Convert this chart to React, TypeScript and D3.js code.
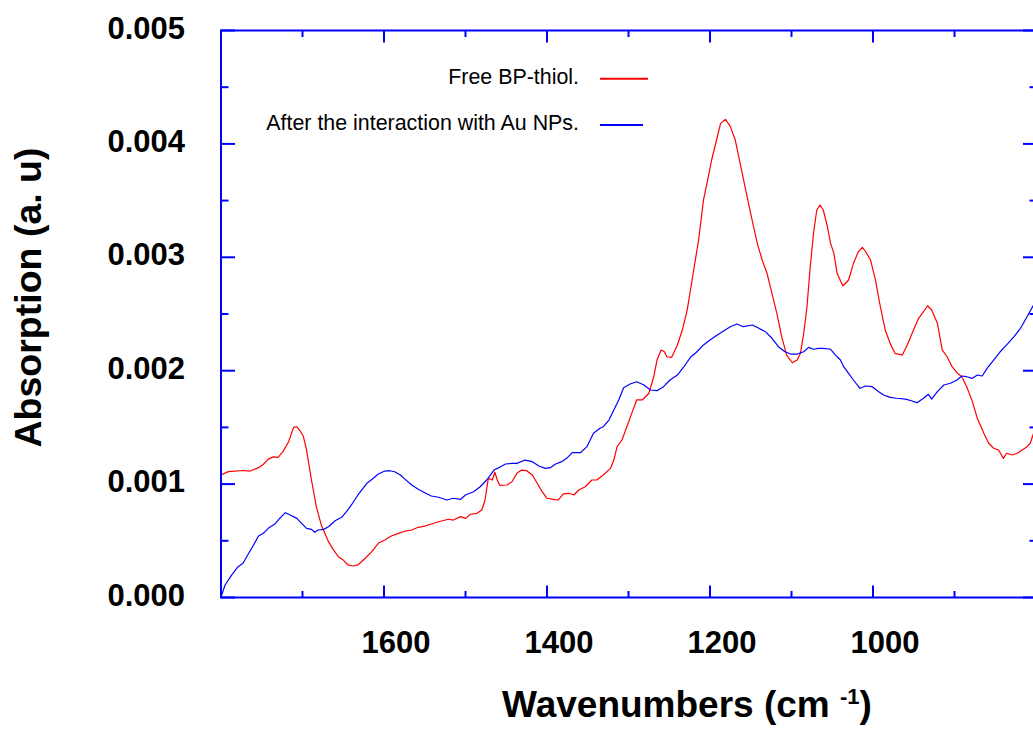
import React from "react";
import * as d3 from "d3";

// FTIR absorption spectra: [wavenumber (cm^-1), absorbance (a.u.)]
const freeThiol: [number, number][] = [
  [1800, 0.00108], [1791, 0.00111], [1773, 0.00112], [1764, 0.001115], [1754, 0.001145],
  [1748, 0.001175], [1742, 0.00122], [1736, 0.00124], [1730, 0.001236], [1724, 0.001286],
  [1717, 0.001374], [1711, 0.0015], [1707, 0.001506], [1703, 0.00147], [1699, 0.001424],
  [1695, 0.0013], [1689, 0.001036], [1683, 0.0008], [1677, 0.00064], [1668, 0.00049],
  [1662, 0.00042], [1656, 0.00036], [1650, 0.00033], [1644, 0.000287], [1638, 0.000278],
  [1632, 0.000287], [1623, 0.000346], [1615, 0.000404], [1607, 0.000478], [1599, 0.000507],
  [1591, 0.000542], [1582, 0.000566], [1574, 0.000586], [1566, 0.000595], [1558, 0.000619],
  [1550, 0.00063], [1542, 0.000648], [1533, 0.000668], [1521, 0.00069], [1515, 0.000683],
  [1506, 0.000713], [1500, 0.000698], [1494, 0.000734], [1486, 0.000742], [1480, 0.000772],
  [1476, 0.00086], [1472, 0.001051], [1467, 0.001036], [1464, 0.001104], [1461, 0.001036],
  [1458, 0.000989], [1449, 0.000992], [1443, 0.001021], [1437, 0.001095], [1431, 0.001124],
  [1425, 0.001118], [1418, 0.00108], [1412, 0.001007], [1406, 0.000933], [1400, 0.000875],
  [1392, 0.000866], [1386, 0.00086], [1380, 0.000913], [1373, 0.000919], [1367, 0.000904],
  [1361, 0.000948], [1353, 0.000977], [1345, 0.001036], [1339, 0.001036], [1331, 0.00108],
  [1322, 0.001139], [1318, 0.001212], [1314, 0.00133], [1308, 0.001389], [1302, 0.001506],
  [1296, 0.001624], [1290, 0.001742], [1283, 0.001742], [1275, 0.001801], [1269, 0.001947],
  [1265, 0.002094], [1260, 0.002182], [1256, 0.002167], [1253, 0.002123], [1247, 0.002118],
  [1240, 0.002227], [1234, 0.002359], [1228, 0.002535], [1222, 0.0028], [1214, 0.003152],
  [1208, 0.003505], [1202, 0.003711], [1198, 0.003858], [1191, 0.004063], [1187, 0.004181],
  [1181, 0.004217], [1175, 0.004152], [1169, 0.004034], [1163, 0.003829], [1157, 0.003622],
  [1151, 0.003417], [1142, 0.003123], [1136, 0.002976], [1130, 0.002859], [1124, 0.002682],
  [1118, 0.002506], [1112, 0.0023], [1106, 0.002138], [1099, 0.00207], [1093, 0.002094],
  [1089, 0.002153], [1085, 0.00233], [1081, 0.002564], [1077, 0.002917], [1073, 0.003211],
  [1069, 0.003417], [1065, 0.003461], [1061, 0.003417], [1056, 0.00327], [1052, 0.003123],
  [1048, 0.003035], [1044, 0.002859], [1037, 0.002747], [1030, 0.0028], [1024, 0.002947],
  [1018, 0.003049], [1013, 0.003088], [1009, 0.003049], [1003, 0.002976], [997, 0.0028],
  [991, 0.002564], [985, 0.002359], [979, 0.002241], [973, 0.002153], [964, 0.002138],
  [958, 0.002227], [952, 0.00233], [944, 0.002462], [938, 0.00252], [933, 0.002573],
  [928, 0.002535], [921, 0.002418], [915, 0.002182], [909, 0.002123], [903, 0.002035],
  [897, 0.001982], [891, 0.001947], [885, 0.001859], [878, 0.001727], [872, 0.00158],
  [864, 0.001448], [858, 0.00136], [852, 0.001316], [846, 0.001301], [840, 0.001227],
  [836, 0.001272], [829, 0.001257], [823, 0.001272], [817, 0.001301], [811, 0.00133],
  [807, 0.00136], [803, 0.001448], [800, 0.00152],
];

const withAuNPs: [number, number][] = [
  [1800, 0.000004], [1795, 0.00011], [1787, 0.000198], [1779, 0.000272], [1773, 0.000302],
  [1766, 0.00039], [1760, 0.000463], [1754, 0.000542], [1748, 0.000566], [1742, 0.00061],
  [1734, 0.000648], [1728, 0.000698], [1721, 0.000748], [1715, 0.000727], [1707, 0.000698],
  [1701, 0.000654], [1695, 0.00061], [1689, 0.000601], [1685, 0.000575], [1681, 0.000595],
  [1674, 0.000601], [1668, 0.000624], [1660, 0.000677], [1652, 0.000707], [1646, 0.000757],
  [1640, 0.000816], [1632, 0.000904], [1621, 0.001007], [1613, 0.001051], [1607, 0.001089],
  [1599, 0.001115], [1593, 0.001118], [1587, 0.001109], [1580, 0.00108], [1574, 0.001042],
  [1566, 0.000992], [1558, 0.000954], [1550, 0.000924], [1542, 0.000895], [1533, 0.000884],
  [1523, 0.00086], [1515, 0.000875], [1506, 0.000866], [1500, 0.000904], [1490, 0.000933],
  [1482, 0.000977], [1474, 0.001036], [1465, 0.001124], [1459, 0.001145], [1451, 0.001177],
  [1443, 0.001183], [1437, 0.001183], [1427, 0.001212], [1418, 0.001198], [1410, 0.00116],
  [1402, 0.001139], [1396, 0.001145], [1390, 0.001175], [1382, 0.001198], [1375, 0.001233],
  [1369, 0.001277], [1359, 0.001277], [1351, 0.00133], [1343, 0.001448], [1335, 0.001492],
  [1331, 0.001506], [1324, 0.001565], [1318, 0.001653], [1312, 0.001742], [1306, 0.00185],
  [1298, 0.001883], [1290, 0.001903], [1281, 0.001874], [1273, 0.00183], [1265, 0.001824],
  [1257, 0.001859], [1249, 0.001918], [1240, 0.001962], [1232, 0.002035], [1224, 0.002118],
  [1216, 0.002167], [1208, 0.002227], [1200, 0.002271], [1191, 0.002315], [1183, 0.002353],
  [1175, 0.002388], [1167, 0.002412], [1159, 0.002388], [1148, 0.002403], [1140, 0.002374],
  [1132, 0.002344], [1124, 0.002286], [1116, 0.002212], [1108, 0.002167], [1101, 0.002147],
  [1093, 0.002147], [1085, 0.002167], [1079, 0.002206], [1073, 0.002189], [1067, 0.002197],
  [1061, 0.002197], [1052, 0.002189], [1046, 0.002138], [1040, 0.002094], [1036, 0.002035],
  [1030, 0.001977], [1024, 0.001918], [1016, 0.001845], [1009, 0.001865], [1001, 0.001859],
  [993, 0.001815], [987, 0.001786], [979, 0.001765], [971, 0.001757], [960, 0.00175],
  [952, 0.001733], [946, 0.001718], [938, 0.001757], [932, 0.001792], [928, 0.00175],
  [921, 0.001815], [913, 0.001874], [905, 0.001889], [897, 0.001918], [891, 0.001953],
  [885, 0.001947], [878, 0.001933], [872, 0.001962], [866, 0.001953], [860, 0.002021],
  [852, 0.002094], [844, 0.002167], [836, 0.002227], [827, 0.0023], [819, 0.002374],
  [811, 0.002476], [803, 0.002579], [800, 0.00262],
];

const xDomain: [number, number] = [1800, 800];
const yDomain: [number, number] = [0, 0.005];
const xMajorTicks = [1800, 1600, 1400, 1200, 1000, 800];
const xMinorTicks = [1700, 1500, 1300, 1100, 900];
const xTickLabels = [1600, 1400, 1200, 1000];
const yMajorTicks = [0, 0.001, 0.002, 0.003, 0.004, 0.005];
const yMinorTicks = [0.0005, 0.0015, 0.0025, 0.0035, 0.0045];

const legendItems = [
  { label: "Free BP-thiol.", color: "#ff0000", data: freeThiol },
  { label: "After the interaction with Au NPs.", color: "#0000ff", data: withAuNPs },
];

const W = 1033;
const H = 729;
const left = 221;
const right = 1036;
const top = 30.5;
const bottom = 597.5;
const axisColor = "#0000ff";
const font = "'Liberation Sans', Arial, Helvetica, sans-serif";

export default function App() {
  const x = d3.scaleLinear().domain(xDomain).range([left, right]);
  const y = d3.scaleLinear().domain(yDomain).range([bottom, top]);
  const line = d3
    .line<[number, number]>()
    .x((d) => x(d[0]))
    .y((d) => y(d[1]))
    .curve(d3.curveLinear);

  const major = 12;
  const minor = 6.5;

  return (
    <svg
      width={W}
      height={H}
      viewBox={`0 0 ${W} ${H}`}
      style={{ position: "absolute", left: 0, top: 0, background: "#fff" }}
    >
      <defs>
        <clipPath id="plot-clip">
          <rect x={left} y={top} width={right - left} height={bottom - top} />
        </clipPath>
      </defs>

      {/* spectra */}
      <g clipPath="url(#plot-clip)" fill="none" strokeWidth={1.2} strokeLinejoin="round">
        {legendItems.map((s) => (
          <path key={s.label} d={line(s.data) || ""} stroke={s.color} />
        ))}
      </g>

      {/* frame */}
      <rect
        x={left}
        y={top}
        width={right - left}
        height={bottom - top}
        fill="none"
        stroke={axisColor}
        strokeWidth={2}
      />

      {/* ticks on all four sides, pointing inward */}
      <g stroke={axisColor} strokeWidth={2}>
        {xMajorTicks.map((t) => (
          <g key={`xM${t}`}>
            <line x1={x(t)} x2={x(t)} y1={bottom} y2={bottom - major} />
            <line x1={x(t)} x2={x(t)} y1={top} y2={top + major} />
          </g>
        ))}
        {xMinorTicks.map((t) => (
          <g key={`xm${t}`}>
            <line x1={x(t)} x2={x(t)} y1={bottom} y2={bottom - minor} />
            <line x1={x(t)} x2={x(t)} y1={top} y2={top + minor} />
          </g>
        ))}
        {yMajorTicks.map((t) => (
          <g key={`yM${t}`}>
            <line x1={left} x2={left + major + 2} y1={y(t)} y2={y(t)} />
            <line x1={right} x2={right - major - 1} y1={y(t)} y2={y(t)} />
          </g>
        ))}
        {yMinorTicks.map((t) => (
          <g key={`ym${t}`}>
            <line x1={left} x2={left + minor + 1} y1={y(t)} y2={y(t)} />
            <line x1={right} x2={right - minor} y1={y(t)} y2={y(t)} />
          </g>
        ))}
      </g>

      {/* tick labels */}
      <g fontFamily={font} fontWeight="bold" fontSize={31} fill="#000">
        {xTickLabels.map((t) => (
          <text key={`xl${t}`} x={x(t) + 12} y={653} textAnchor="middle">
            {t}
          </text>
        ))}
        {yMajorTicks.map((t) => (
          <text key={`yl${t}`} x={185} y={y(t) + 8} textAnchor="end">
            {d3.format(".3f")(t)}
          </text>
        ))}
      </g>

      {/* axis titles */}
      <text
        fontFamily={font}
        fontWeight="bold"
        fontSize={37}
        textAnchor="middle"
        x={687}
        y={717}
        fill="#000"
      >
        Wavenumbers (cm{" "}
        <tspan fontSize={22} dy={-13}>
          -1
        </tspan>
        <tspan dy={13}>)</tspan>
      </text>
      <text
        fontFamily={font}
        fontWeight="bold"
        fontSize={37.5}
        textAnchor="middle"
        transform="translate(41,297.5) rotate(-90)"
        fill="#000"
      >
        Absorption (a. u)
      </text>

      {/* legend */}
      <g fontFamily={font} fontSize={21.4} fill="#000">
        {legendItems.map((s, i) => {
          const ly = i === 0 ? 78.7 : 125;
          const lineEnd = i === 0 ? 648 : 643;
          return (
            <g key={s.label}>
              <text x={579} y={ly + 5} textAnchor="end">
                {s.label}
              </text>
              <line x1={600} x2={lineEnd} y1={ly} y2={ly} stroke={s.color} strokeWidth={2} />
            </g>
          );
        })}
      </g>
    </svg>
  );
}
